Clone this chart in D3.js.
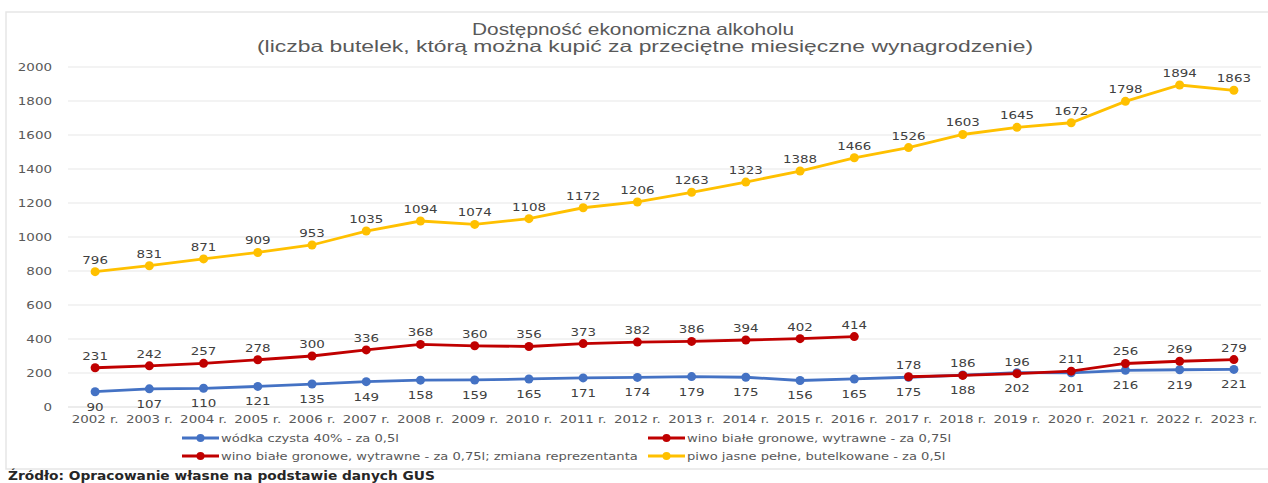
<!DOCTYPE html>
<html>
<head>
<meta charset="utf-8">
<script src="https://cdn.jsdelivr.net/npm/d3@7"></script>
<style>
  body { margin: 0; background: #fff; }
  svg { display: block; }
</style>
</head>
<body>
<div id="chart"></div>
<script>
// dane
var years = ['2002 r.', '2003 r.', '2004 r.', '2005 r.', '2006 r.', '2007 r.', '2008 r.', '2009 r.', '2010 r.', '2011 r.',
  '2012 r.', '2013 r.', '2014 r.', '2015 r.', '2016 r.', '2017 r.', '2018 r.', '2019 r.', '2020 r.', '2021 r.', '2022 r.', '2023 r.']
var wodka = [90, 107, 110, 121, 135, 149, 158, 159, 165, 171, 174, 179, 175, 156, 165, 175, 188, 202, 201, 216, 219, 221]
var wino = [231, 242, 257, 278, 300, 336, 368, 360, 356, 373, 382, 386, 394, 402, 414]
var winoNowe = [178, 186, 196, 211, 256, 269, 279]
var piwo = [796, 831, 871, 909, 953, 1035, 1094, 1074, 1108, 1172, 1206, 1263, 1323, 1388, 1466, 1526, 1603, 1645, 1672, 1798, 1894, 1863]
var yTicks = [0, 200, 400, 600, 800, 1000, 1200, 1400, 1600, 1800, 2000]

var width = 1268, height = 483
var font = 'DejaVu Sans, Verdana, sans-serif'

var series = [
  { name: 'wódka czysta 40% - za 0,5l', color: '#4472C4', values: wodka, start: 0, below: true },
  { name: 'wino białe gronowe, wytrawne - za 0,75l', color: '#C00000', values: wino, start: 0 },
  { name: 'wino białe gronowe, wytrawne - za 0,75l; zmiana reprezentanta', color: '#C00000', values: winoNowe, start: 15 },
  { name: 'piwo jasne pełne, butelkowane - za 0,5l', color: '#FFC000', values: piwo, start: 0 }
]

// obraz jest rozciągnięty w poziomie, więc tekst też rozciągamy
function stretch(sel, sx, fx, fy) {
  sel.attr('transform', function(d, i) {
    return 'translate(' + fx(d, i) + ',' + fy(d, i) + ') scale(' + sx + ',1)'
  })
}

var svg = d3.select('#chart').append('svg')
  .attr('width', width)
  .attr('height', height)

// ramka
svg.append('rect')
  .attr('x', 6).attr('y', 12)
  .attr('width', 1270).attr('height', 457)
  .attr('fill', 'none')
  .attr('stroke', '#e6e6e6')
  .attr('stroke-width', 1.5)

// tytuł
svg.append('text')
  .attr('x', 472).attr('y', 35)
  .attr('font-family', 'Liberation Sans, Arial, sans-serif')
  .attr('font-size', 16.5)
  .attr('fill', '#595959')
  .attr('textLength', 322)
  .attr('lengthAdjust', 'spacingAndGlyphs')
  .text('Dostępność ekonomiczna alkoholu')
svg.append('text')
  .attr('x', 257).attr('y', 52)
  .attr('font-family', 'Liberation Sans, Arial, sans-serif')
  .attr('font-size', 16.5)
  .attr('fill', '#595959')
  .attr('textLength', 776)
  .attr('lengthAdjust', 'spacingAndGlyphs')
  .text('(liczba butelek, którą można kupić za przeciętne miesięczne wynagrodzenie)')

var x = d3.scaleBand().domain(years).range([68, 1261])
var y = d3.scaleLinear().domain([0, 2000]).range([407, 67])
var cx = function(i) { return x(years[i]) + x.bandwidth() / 2 }

// siatka
svg.append('g')
  .selectAll('line')
  .data(yTicks)
  .enter()
  .append('line')
  .attr('x1', 68).attr('x2', 1261)
  .attr('y1', function(d) { return y(d) })
  .attr('y2', function(d) { return y(d) })
  .attr('stroke', function(d) { return d === 0 ? '#d9d9d9' : '#e8e8e8' })
  .attr('stroke-width', 1.2)

// oś Y
svg.append('g')
  .selectAll('text')
  .data(yTicks)
  .enter()
  .append('text')
  .attr('text-anchor', 'end')
  .attr('font-family', font)
  .attr('font-size', 10.5)
  .attr('fill', '#595959')
  .text(function(d) { return d })
  .call(stretch, 1.28, function() { return 52 }, function(d) { return y(d) + 4 })

// oś X
svg.append('g')
  .selectAll('text')
  .data(years)
  .enter()
  .append('text')
  .attr('text-anchor', 'middle')
  .attr('font-family', font)
  .attr('font-size', 11)
  .attr('fill', '#595959')
  .text(function(d) { return d })
  .call(stretch, 1.22, function(d, i) { return cx(i) }, function() { return 423 })

// linie
var line = d3.line()
  .x(function(d) { return cx(d.i) })
  .y(function(d) { return y(d.v) })

series.forEach(function(s) {
  var pts = s.values.map(function(v, k) { return { i: s.start + k, v: v } })
  var g = svg.append('g')
  g.append('path')
    .datum(pts)
    .attr('d', line)
    .attr('fill', 'none')
    .attr('stroke', s.color)
    .attr('stroke-width', 2.8)
  g.selectAll('circle')
    .data(pts)
    .enter()
    .append('circle')
    .attr('cx', function(d) { return cx(d.i) })
    .attr('cy', function(d) { return y(d.v) })
    .attr('r', 4.5)
    .attr('fill', s.color)
  s.pts = pts
})

// etykiety danych na wierzchu
series.forEach(function(s) {
  svg.append('g')
    .selectAll('text')
    .data(s.pts)
    .enter()
    .append('text')
    .attr('text-anchor', 'middle')
    .attr('font-family', font)
    .attr('font-size', 11)
    .attr('fill', '#404040')
    .text(function(d) { return d.v })
    .call(stretch, 1.22,
      function(d) { return cx(d.i) },
      function(d) { return s.below ? y(d.v) + 19 : y(d.v) - 8 })
})

// legenda
var legendPos = [[182, 438], [648, 438], [182, 456], [648, 456]]
series.forEach(function(s, i) {
  var p = legendPos[i]
  var g = svg.append('g').attr('transform', 'translate(' + p[0] + ',' + p[1] + ')')
  g.append('line')
    .attr('x1', 0).attr('x2', 37)
    .attr('stroke', s.color)
    .attr('stroke-width', 2.8)
  g.append('circle').attr('cx', 18.5).attr('r', 4).attr('fill', s.color)
  g.append('text')
    .attr('font-family', font)
    .attr('font-size', 11)
    .attr('fill', '#595959')
    .text(s.name)
    .call(stretch, 1.19, function() { return 39 }, function() { return 4 })
})

// źródło
svg.append('text')
  .attr('font-family', font)
  .attr('font-size', 12.5)
  .attr('font-weight', 'bold')
  .attr('fill', '#262626')
  .text('Źródło: Opracowanie własne na podstawie danych GUS')
  .call(stretch, 1.1, function() { return 8 }, function() { return 480 })
</script>
</body>
</html>
